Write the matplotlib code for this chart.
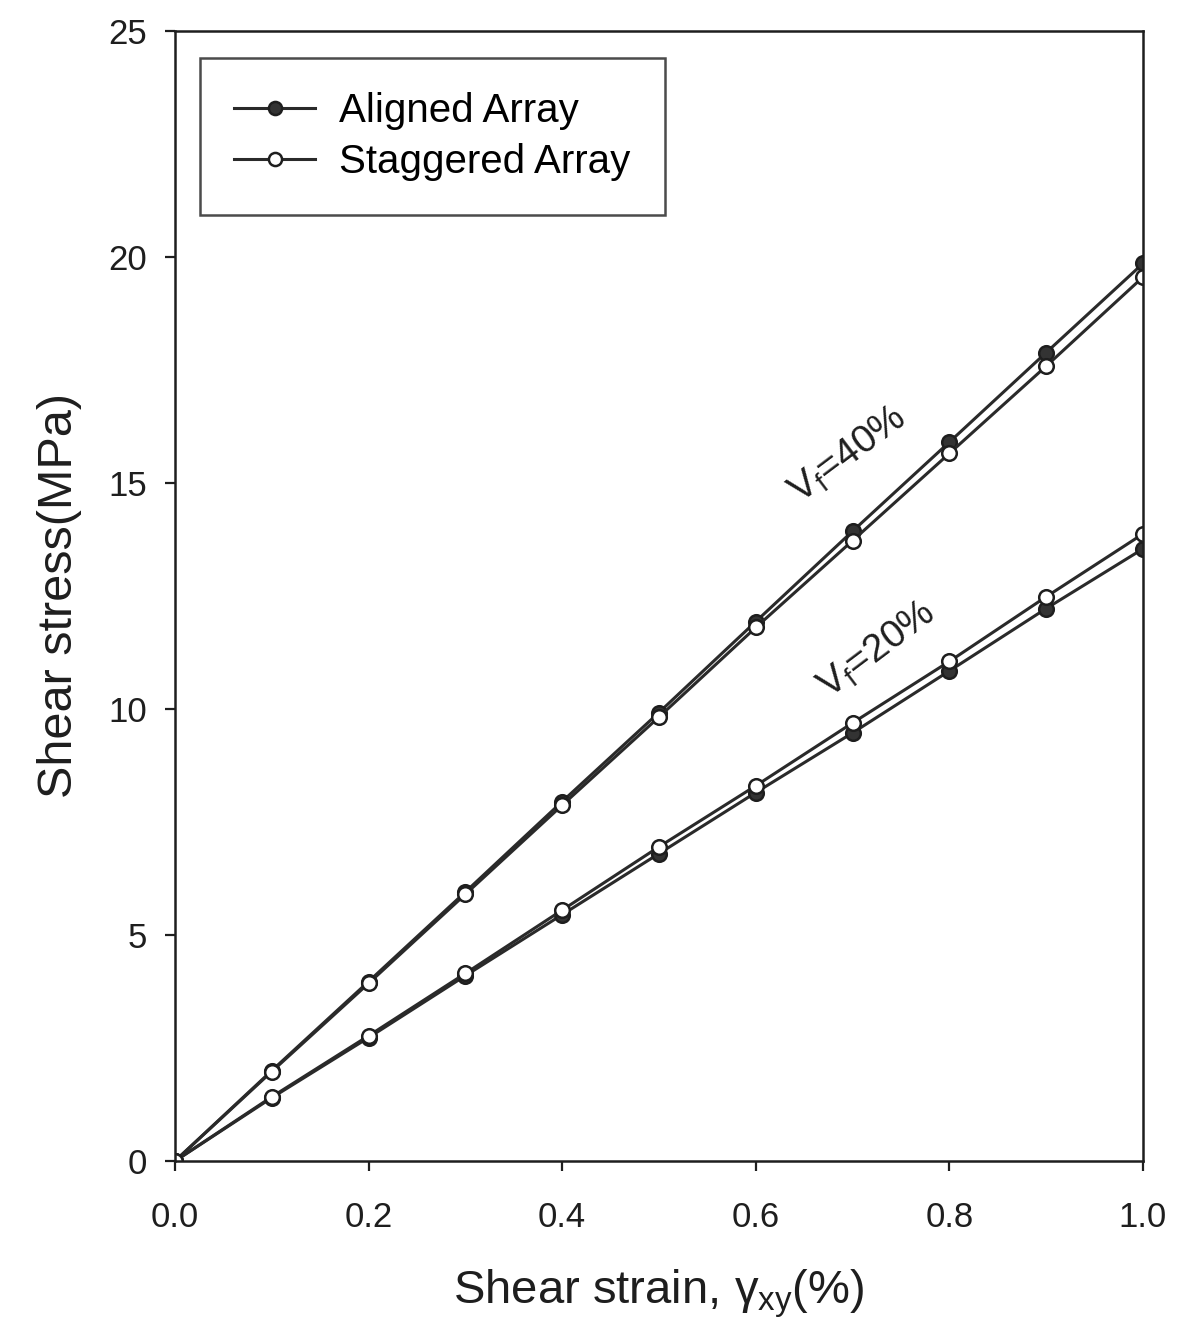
import numpy as np
import matplotlib
matplotlib.use("Agg")
import matplotlib.pyplot as plt

plt.rcParams['font.family'] = ['Liberation Sans', 'DejaVu Sans']
plt.rcParams['mathtext.fontset'] = 'custom'
plt.rcParams['mathtext.rm'] = 'Liberation Sans'
plt.rcParams['mathtext.it'] = 'Liberation Sans'
plt.rcParams['mathtext.bf'] = 'Liberation Sans:bold'

# shear strain (%)
strain = [0.0, 0.1, 0.2, 0.3, 0.4, 0.5, 0.6, 0.7, 0.8, 0.9, 1.0]

# Vf = 40 %
aligned_40 = [0.0, 2.00, 3.97, 5.95, 7.95, 9.92, 11.93, 13.93, 15.90, 17.88, 19.85]
staggered_40 = [0.0, 1.98, 3.93, 5.90, 7.87, 9.82, 11.80, 13.72, 15.65, 17.58, 19.55]

# Vf = 20 %
aligned_20 = [0.0, 1.40, 2.73, 4.10, 5.45, 6.80, 8.15, 9.47, 10.84, 12.22, 13.54]
staggered_20 = [0.0, 1.42, 2.77, 4.15, 5.55, 6.95, 8.30, 9.69, 11.05, 12.48, 13.87]

fig = plt.figure(figsize=(11.82, 13.30), dpi=100)
ax = fig.add_axes([0.148, 0.127, 0.819, 0.850])

ink = '#1e1e1e'
line_kw = dict(color='#2a2a2a', lw=2.2, markersize=10.5, markeredgecolor=ink,
               markeredgewidth=1.8)

ax.plot(strain, aligned_40, marker='o', markerfacecolor='#333333', label='Aligned Array', **line_kw)
ax.plot(strain, staggered_40, marker='o', markerfacecolor='white', label='Staggered Array', **line_kw)
ax.plot(strain, aligned_20, marker='o', markerfacecolor='#333333', **line_kw)
ax.plot(strain, staggered_20, marker='o', markerfacecolor='white', **line_kw)

ax.set_xlim(0, 1.0)
ax.set_ylim(0, 25)
ax.set_xticks([0.0, 0.2, 0.4, 0.6, 0.8, 1.0])
ax.set_xticklabels(['0.0', '0.2', '0.4', '0.6', '0.8', '1.0'])
ax.set_yticks([0, 5, 10, 15, 20, 25])
ax.tick_params(direction='out', length=7, width=1.6, labelsize=25, colors=ink)
ax.tick_params(axis='x', pad=22)
ax.tick_params(axis='y', pad=13)
for s in ax.spines.values():
    s.set_linewidth(1.8)
    s.set_color(ink)

ax.set_xlabel(r'Shear strain, $\gamma_{xy}$(%)', fontsize=34, labelpad=24, color=ink)
ax.set_ylabel('Shear stress(MPa)', fontsize=35, labelpad=19, color=ink)

ax.text(0.695, 15.6, r'$\mathregular{V_f}$=40%', fontsize=28, rotation=37,
        ha='center', va='center', color=ink)
ax.text(0.725, 11.3, r'$\mathregular{V_f}$=20%', fontsize=28, rotation=37,
        ha='center', va='center', color=ink)

leg = ax.legend(loc='upper left', fontsize=29, frameon=True, fancybox=False,
                edgecolor=ink, handlelength=2.0, handletextpad=0.6, borderpad=0.85,
                labelspacing=0.32, markerscale=0.9,
                bbox_to_anchor=(0.026, 0.976), borderaxespad=0)
leg.get_frame().set_linewidth(1.8)

fig.savefig('out.png', dpi=100)
